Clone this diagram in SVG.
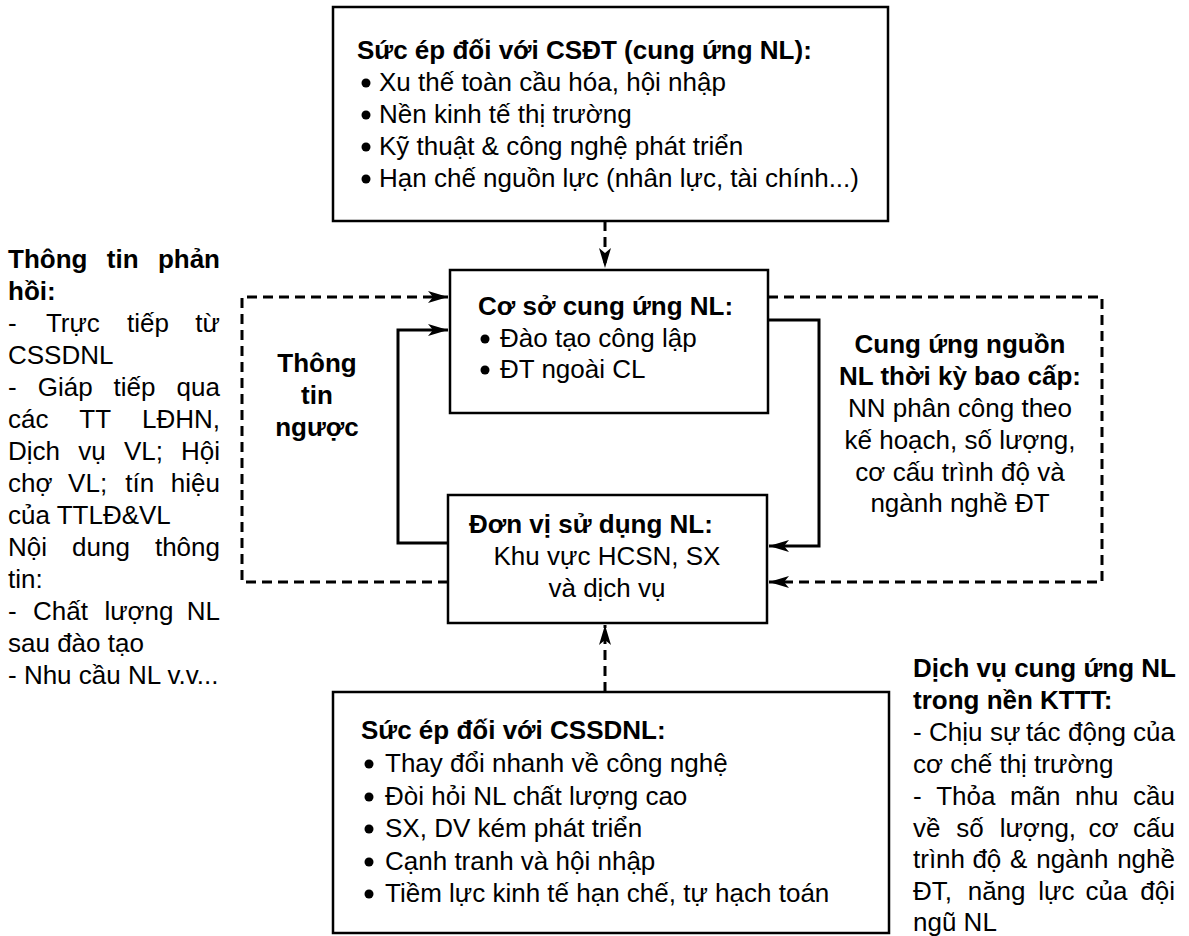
<svg xmlns="http://www.w3.org/2000/svg" width="1189" height="936" viewBox="0 0 1189 936">
<style>
text{font-family:"Liberation Sans",Arial,sans-serif;font-size:26px;fill:#000}
.b{font-weight:bold}
.e{text-anchor:end}
.m{text-anchor:middle}
.box{fill:#fff;stroke:#000;stroke-width:2.5}
.sol{fill:none;stroke:#000;stroke-width:3}
.dash{fill:none;stroke:#000;stroke-width:3;stroke-dasharray:10 6}
.dot{fill:#000}
</style>
<defs>
<marker id="ah" markerUnits="userSpaceOnUse" markerWidth="22" markerHeight="14" refX="20" refY="6" orient="auto" viewBox="0 0 22 14" overflow="visible">
<path d="M0,0 L20,6 L0,12 L5,6 z" fill="#000"/>
</marker>
</defs>
<rect width="1189" height="936" fill="#fff"/>

<g id="connectors">
<path class="dash" d="M605,221 V268" marker-end="url(#ah)"/>
<path class="dash" d="M605,692 V625" marker-end="url(#ah)"/>
<path class="dash" d="M448,582 H242 V297 H448" marker-end="url(#ah)"/>
<path class="dash" d="M768,297 H1102 V582 H769" marker-end="url(#ah)"/>
<path class="sol" d="M448,543 H398 V330 H448" marker-end="url(#ah)"/>
<path class="sol" d="M768,320 H819 V546 H769" marker-end="url(#ah)"/>
</g>

<g id="top-box">
<rect class="box" x="333" y="7" width="555" height="214"/>
<text class="b" x="357" y="59">Sức ép đối với CSĐT (cung ứng NL):</text>
<circle class="dot" cx="366" cy="83" r="4.5"/><text x="379" y="91">Xu thế toàn cầu hóa, hội nhập</text>
<circle class="dot" cx="366" cy="115" r="4.5"/><text x="379" y="123">Nền kinh tế thị trường</text>
<circle class="dot" cx="366" cy="147" r="4.5"/><text x="379" y="155">Kỹ thuật &amp; công nghệ phát triển</text>
<circle class="dot" cx="366" cy="179" r="4.5"/><text x="379" y="187">Hạn chế nguồn lực (nhân lực, tài chính...)</text>
</g>

<g id="supply-box">
<rect class="box" x="450" y="270" width="318" height="143"/>
<text class="b" x="478" y="315">Cơ sở cung ứng NL:</text>
<circle class="dot" cx="485" cy="339" r="4.5"/><text x="500" y="347">Đào tạo công lập</text>
<circle class="dot" cx="485" cy="370" r="4.5"/><text x="500" y="378">ĐT ngoài CL</text>
</g>

<g id="user-box">
<rect class="box" x="448" y="495" width="319" height="128"/>
<text class="b" x="469" y="533">Đơn vị sử dụng NL:</text>
<text class="m" x="607" y="565">Khu vực HCSN, SX</text>
<text class="m" x="607" y="597">và dịch vụ</text>
</g>

<g id="bottom-box">
<rect class="box" x="333" y="692" width="556" height="241"/>
<text class="b" x="361" y="739">Sức ép đối với CSSDNL:</text>
<circle class="dot" cx="369" cy="764" r="4.5"/><text x="385" y="772">Thay đổi nhanh về công nghệ</text>
<circle class="dot" cx="369" cy="797" r="4.5"/><text x="385" y="805">Đòi hỏi NL chất lượng cao</text>
<circle class="dot" cx="369" cy="829" r="4.5"/><text x="385" y="837">SX, DV kém phát triển</text>
<circle class="dot" cx="369" cy="862" r="4.5"/><text x="385" y="870">Cạnh tranh và hội nhập</text>
<circle class="dot" cx="369" cy="894" r="4.5"/><text x="385" y="902">Tiềm lực kinh tế hạn chế, tự hạch toán</text>
</g>

<g id="reverse-info">
<text class="b m" x="317" y="372">Thông</text>
<text class="b m" x="317" y="404">tin</text>
<text class="b m" x="317" y="436">ngược</text>
</g>

<g id="feedback-text">
<text class="b" y="268"><tspan x="8">Thông</tspan><tspan x="106.8">tin</tspan></text><text class="b e" x="220" y="268">phản</text>
<text class="b" x="8" y="300">hồi:</text>
<text y="332"><tspan x="8">-</tspan><tspan x="45.9">Trực</tspan><tspan x="127.1">tiếp</tspan></text><text class="e" x="220" y="332">từ</text>
<text x="8" y="364">CSSDNL</text>
<text y="396"><tspan x="8">-</tspan><tspan x="37.7">Giáp</tspan><tspan x="113.6">tiếp</tspan></text><text class="e" x="220" y="396">qua</text>
<text y="428"><tspan x="8">các</tspan><tspan x="79.3">TT</tspan></text><text class="e" x="220" y="428">LĐHN,</text>
<text y="460"><tspan x="8">Dịch</tspan><tspan x="78.2">vụ</tspan><tspan x="123.9">VL;</tspan></text><text class="e" x="220" y="460">Hội</text>
<text y="492"><tspan x="8">chợ</tspan><tspan x="68.1">VL;</tspan><tspan x="125.3">tín</tspan></text><text class="e" x="220" y="492">hiệu</text>
<text x="8" y="524">của TTLĐ&amp;VL</text>
<text y="556"><tspan x="8">Nội</tspan><tspan x="72.1">dung</tspan></text><text class="e" x="220" y="556">thông</text>
<text x="8" y="588">tin:</text>
<text y="620"><tspan x="8">-</tspan><tspan x="33.1">Chất</tspan><tspan x="104.4">lượng</tspan></text><text class="e" x="220" y="620">NL</text>
<text x="8" y="652">sau đào tạo</text>
<text x="8" y="684">- Nhu cầu NL v.v...</text>
</g>

<g id="subsidy-text">
<text class="b m" x="960" y="353">Cung ứng nguồn</text>
<text class="b m" x="960" y="385">NL thời kỳ bao cấp:</text>
<text class="m" x="960" y="417">NN phân công theo</text>
<text class="m" x="960" y="449">kế hoạch, số lượng,</text>
<text class="m" x="960" y="481">cơ cấu trình độ và</text>
<text class="m" x="960" y="512">ngành nghề ĐT</text>
</g>

<g id="market-text">
<text class="b" x="913" y="677">Dịch vụ cung ứng NL</text>
<text class="b" x="913" y="709">trong nền KTTT:</text>
<text y="741"><tspan x="913">-</tspan><tspan x="929">Chịu</tspan><tspan x="989.9">sự</tspan><tspan x="1025.9">tác</tspan><tspan x="1068">động</tspan></text><text class="e" x="1175" y="741">của</text>
<text x="913" y="773">cơ chế thị trường</text>
<text y="805"><tspan x="913">-</tspan><tspan x="936.2">Thỏa</tspan><tspan x="1010">mãn</tspan><tspan x="1075.1">nhu</tspan></text><text class="e" x="1175" y="805">cầu</text>
<text y="837"><tspan x="913">về</tspan><tspan x="956.3">số</tspan><tspan x="999.7">lượng,</tspan><tspan x="1088.6">cơ</tspan></text><text class="e" x="1175" y="837">cấu</text>
<text y="868"><tspan x="913">trình</tspan><tspan x="972.4">độ</tspan><tspan x="1010.1">&amp;</tspan><tspan x="1036.2">ngành</tspan></text><text class="e" x="1175" y="868">nghề</text>
<text y="900"><tspan x="913">ĐT,</tspan><tspan x="967.7">năng</tspan><tspan x="1038.3">lực</tspan><tspan x="1085.5">của</tspan></text><text class="e" x="1175" y="900">đội</text>
<text x="913" y="931">ngũ NL</text>
</g>
</svg>
